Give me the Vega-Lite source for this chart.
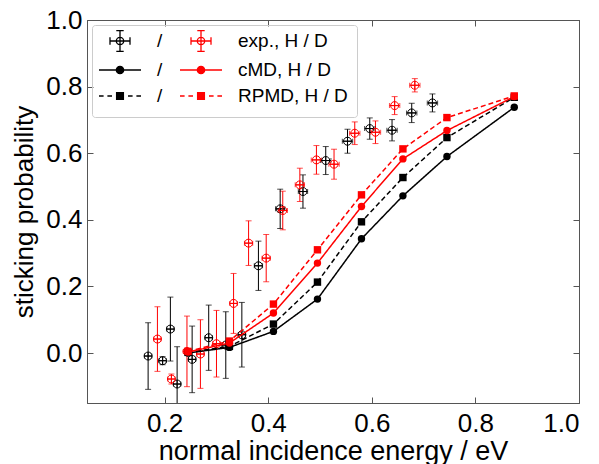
{
  "$schema": "https://vega.github.io/schema/vega-lite/v6.json",
  "width": 492,
  "height": 383,
  "autosize": {"type": "none"},
  "padding": {"left": 87, "top": 20, "right": 20, "bottom": 61},
  "datasets": {
    "exp": [
      {"iso": "H", "x": 0.168, "y": -0.009, "yerr": 0.1, "xerr": 0.007},
      {"iso": "H", "x": 0.196, "y": -0.023, "yerr": 0.012, "xerr": 0.007},
      {"iso": "H", "x": 0.211, "y": 0.072, "yerr": 0.096, "xerr": 0.007},
      {"iso": "H", "x": 0.224, "y": -0.093, "yerr": 0.112, "xerr": 0.007},
      {"iso": "H", "x": 0.253, "y": -0.019, "yerr": 0.1, "xerr": 0.007},
      {"iso": "H", "x": 0.285, "y": 0.046, "yerr": 0.098, "xerr": 0.007},
      {"iso": "H", "x": 0.318, "y": 0.024, "yerr": 0.1, "xerr": 0.007},
      {"iso": "H", "x": 0.349, "y": 0.055, "yerr": 0.097, "xerr": 0.007},
      {"iso": "H", "x": 0.381, "y": 0.262, "yerr": 0.074, "xerr": 0.008},
      {"iso": "H", "x": 0.423, "y": 0.433, "yerr": 0.059, "xerr": 0.009},
      {"iso": "H", "x": 0.467, "y": 0.485, "yerr": 0.05, "xerr": 0.009},
      {"iso": "H", "x": 0.511, "y": 0.578, "yerr": 0.042, "xerr": 0.01},
      {"iso": "H", "x": 0.553, "y": 0.636, "yerr": 0.036, "xerr": 0.01},
      {"iso": "H", "x": 0.596, "y": 0.674, "yerr": 0.032, "xerr": 0.01},
      {"iso": "H", "x": 0.639, "y": 0.669, "yerr": 0.032, "xerr": 0.01},
      {"iso": "H", "x": 0.677, "y": 0.721, "yerr": 0.029, "xerr": 0.01},
      {"iso": "H", "x": 0.717, "y": 0.751, "yerr": 0.027, "xerr": 0.01},
      {"iso": "D", "x": 0.186, "y": 0.042, "yerr": 0.097, "xerr": 0.007},
      {"iso": "D", "x": 0.213, "y": -0.078, "yerr": 0.015, "xerr": 0.007},
      {"iso": "D", "x": 0.243, "y": 0.005, "yerr": 0.106, "xerr": 0.007},
      {"iso": "D", "x": 0.269, "y": -0.003, "yerr": 0.103, "xerr": 0.007},
      {"iso": "D", "x": 0.3, "y": 0.028, "yerr": 0.1, "xerr": 0.007},
      {"iso": "D", "x": 0.333, "y": 0.149, "yerr": 0.09, "xerr": 0.007},
      {"iso": "D", "x": 0.362, "y": 0.33, "yerr": 0.067, "xerr": 0.008},
      {"iso": "D", "x": 0.396, "y": 0.285, "yerr": 0.071, "xerr": 0.008},
      {"iso": "D", "x": 0.428, "y": 0.428, "yerr": 0.058, "xerr": 0.009},
      {"iso": "D", "x": 0.461, "y": 0.505, "yerr": 0.05, "xerr": 0.009},
      {"iso": "D", "x": 0.493, "y": 0.58, "yerr": 0.043, "xerr": 0.01},
      {"iso": "D", "x": 0.527, "y": 0.567, "yerr": 0.045, "xerr": 0.01},
      {"iso": "D", "x": 0.567, "y": 0.66, "yerr": 0.034, "xerr": 0.01},
      {"iso": "D", "x": 0.607, "y": 0.663, "yerr": 0.034, "xerr": 0.01},
      {"iso": "D", "x": 0.644, "y": 0.743, "yerr": 0.027, "xerr": 0.01},
      {"iso": "D", "x": 0.683, "y": 0.804, "yerr": 0.02, "xerr": 0.01}
    ],
    "model": [
      {"method": "cMD", "iso": "H", "x": 0.245, "y": 0.0},
      {"method": "cMD", "iso": "H", "x": 0.325, "y": 0.017},
      {"method": "cMD", "iso": "H", "x": 0.41, "y": 0.065},
      {"method": "cMD", "iso": "H", "x": 0.495, "y": 0.162},
      {"method": "cMD", "iso": "H", "x": 0.58, "y": 0.343},
      {"method": "cMD", "iso": "H", "x": 0.66, "y": 0.472},
      {"method": "cMD", "iso": "H", "x": 0.745, "y": 0.59},
      {"method": "cMD", "iso": "H", "x": 0.875, "y": 0.738},
      {"method": "RPMD", "iso": "H", "x": 0.245, "y": 0.002},
      {"method": "RPMD", "iso": "H", "x": 0.325, "y": 0.02},
      {"method": "RPMD", "iso": "H", "x": 0.41, "y": 0.087},
      {"method": "RPMD", "iso": "H", "x": 0.495, "y": 0.213},
      {"method": "RPMD", "iso": "H", "x": 0.58, "y": 0.394},
      {"method": "RPMD", "iso": "H", "x": 0.66, "y": 0.527},
      {"method": "RPMD", "iso": "H", "x": 0.745, "y": 0.647},
      {"method": "RPMD", "iso": "H", "x": 0.875, "y": 0.768},
      {"method": "cMD", "iso": "D", "x": 0.245, "y": 0.003},
      {"method": "cMD", "iso": "D", "x": 0.325, "y": 0.03},
      {"method": "cMD", "iso": "D", "x": 0.41, "y": 0.12},
      {"method": "cMD", "iso": "D", "x": 0.495, "y": 0.27},
      {"method": "cMD", "iso": "D", "x": 0.58, "y": 0.44},
      {"method": "cMD", "iso": "D", "x": 0.66, "y": 0.583},
      {"method": "cMD", "iso": "D", "x": 0.745, "y": 0.668},
      {"method": "cMD", "iso": "D", "x": 0.875, "y": 0.77},
      {"method": "RPMD", "iso": "D", "x": 0.245, "y": 0.005},
      {"method": "RPMD", "iso": "D", "x": 0.325, "y": 0.036},
      {"method": "RPMD", "iso": "D", "x": 0.41, "y": 0.147},
      {"method": "RPMD", "iso": "D", "x": 0.495, "y": 0.31},
      {"method": "RPMD", "iso": "D", "x": 0.58, "y": 0.475},
      {"method": "RPMD", "iso": "D", "x": 0.66, "y": 0.613},
      {"method": "RPMD", "iso": "D", "x": 0.745, "y": 0.707},
      {"method": "RPMD", "iso": "D", "x": 0.875, "y": 0.772}
    ],
    "methods": [{"method": "exp"}, {"method": "cMD"}, {"method": "RPMD"}],
    "frame": [{"part": "box"}]
  },
  "config": {
    "font": "Liberation Sans",
    "view": {"stroke": "#555555"},
    "axis": {
      "grid": false,
      "tickSize": -6,
      "domainColor": "#555555",
      "tickColor": "#555555",
      "labelColor": "#000000",
      "titleColor": "#000000",
      "labelFontSize": 26,
      "titleFontSize": 26,
      "titleFontWeight": "normal",
      "labelFont": "Liberation Sans",
      "titleFont": "Liberation Sans"
    },
    "legend": {
      "labelFont": "Liberation Sans",
      "labelColor": "#000000",
      "labelFontSize": 19
    }
  },
  "layer": [
    {
      "data": {"name": "exp"},
      "mark": {"type": "errorbar", "ticks": {"size": 6, "thickness": 1}, "thickness": 1, "clip": true},
      "encoding": {
        "x": {"field": "x", "type": "quantitative", "scale": {"domain": [0.05, 1.0], "nice": false, "zero": false}, "axis": null},
        "y": {"field": "y", "type": "quantitative", "scale": {"domain": [-0.15, 1.0], "nice": false, "zero": false}, "axis": null},
        "yError": {"field": "yerr"},
        "color": {"field": "iso", "type": "nominal", "scale": {"domain": ["H", "D"], "range": ["#000000", "#ff0000"]}, "legend": null}
      }
    },
    {
      "data": {"name": "exp"},
      "mark": {"type": "errorbar", "ticks": {"size": 5, "thickness": 1}, "thickness": 1, "clip": true},
      "encoding": {
        "x": {"field": "x", "type": "quantitative", "scale": {"domain": [0.05, 1.0], "nice": false, "zero": false}, "axis": null},
        "xError": {"field": "xerr"},
        "y": {"field": "y", "type": "quantitative", "scale": {"domain": [-0.15, 1.0], "nice": false, "zero": false}, "axis": null},
        "color": {"field": "iso", "type": "nominal", "scale": {"domain": ["H", "D"], "range": ["#000000", "#ff0000"]}, "legend": null}
      }
    },
    {
      "data": {"name": "exp"},
      "mark": {"type": "point", "shape": "M-1,0A1,1,0,1,1,1,0A1,1,0,1,1,-1,0M-1,0L1,0M0,-1L0,1", "size": 64, "filled": false, "strokeWidth": 1, "opacity": 1, "clip": true},
      "encoding": {
        "x": {"field": "x", "type": "quantitative", "scale": {"domain": [0.05, 1.0], "nice": false, "zero": false}, "axis": null},
        "y": {"field": "y", "type": "quantitative", "scale": {"domain": [-0.15, 1.0], "nice": false, "zero": false}, "axis": null},
        "color": {"field": "iso", "type": "nominal", "scale": {"domain": ["H", "D"], "range": ["#000000", "#ff0000"]}, "legend": null}
      }
    },
    {
      "data": {"name": "model"},
      "mark": {"type": "line", "strokeWidth": 1.5, "clip": true},
      "encoding": {
        "x": {"field": "x", "type": "quantitative", "scale": {"domain": [0.05, 1.0], "nice": false, "zero": false},
          "axis": {"orient": "bottom", "values": [0.2, 0.4, 0.6, 0.8, 1.0], "format": ".1f", "title": "normal incidence energy / eV", "labelPadding": 13, "titlePadding": 2, "titleFontSize": 27}},
        "y": {"field": "y", "type": "quantitative", "scale": {"domain": [-0.15, 1.0], "nice": false, "zero": false},
          "axis": {"orient": "left", "values": [0, 0.2, 0.4, 0.6, 0.8, 1.0], "format": ".1f", "title": "sticking probability", "labelPadding": 11, "titlePadding": 8}},
        "color": {"field": "iso", "type": "nominal", "scale": {"domain": ["H", "D"], "range": ["#000000", "#ff0000"]}, "legend": null},
        "strokeDash": {"field": "method", "type": "nominal", "scale": {"domain": ["cMD", "RPMD"], "range": [[1, 0], [5, 3]]}, "legend": null}
      }
    },
    {
      "data": {"name": "model"},
      "mark": {"type": "point", "size": 55, "filled": true, "opacity": 1, "clip": true},
      "encoding": {
        "x": {"field": "x", "type": "quantitative", "scale": {"domain": [0.05, 1.0], "nice": false, "zero": false},
          "axis": {"orient": "top", "values": [0.2, 0.4, 0.6, 0.8, 1.0], "labels": false, "title": null}},
        "y": {"field": "y", "type": "quantitative", "scale": {"domain": [-0.15, 1.0], "nice": false, "zero": false},
          "axis": {"orient": "right", "values": [0, 0.2, 0.4, 0.6, 0.8, 1.0], "labels": false, "title": null}},
        "color": {"field": "iso", "type": "nominal", "scale": {"domain": ["H", "D"], "range": ["#000000", "#ff0000"]}, "legend": null},
        "shape": {"field": "method", "type": "nominal", "scale": {"domain": ["cMD", "RPMD"], "range": ["circle", "square"]}, "legend": null}
      }
    },
    {
      "data": {"name": "frame"},
      "mark": {"type": "point", "filled": false, "color": "#cccccc", "opacity": 0},
      "encoding": {
        "shape": {"field": "part", "type": "nominal",
          "scale": {"domain": ["box"], "range": [
            "M-0.7,-1L25.2,-1A0.3,0.3,0,0,1,25.5,-0.7L25.5,7.9A0.3,0.3,0,0,1,25.2,8.2L-0.7,8.2A0.3,0.3,0,0,1,-1,7.9L-1,-0.7A0.3,0.3,0,0,1,-0.7,-1Z"
          ]},
          "legend": {"orient": "none", "legendX": 5, "legendY": 5, "title": null, "symbolSize": 400,
            "symbolStrokeColor": "#cccccc", "symbolOpacity": 1, "symbolStrokeWidth": 1,
            "labelExpr": "''", "padding": 0}
        }
      }
    },
    {
      "data": {"name": "methods"},
      "mark": {"type": "point", "filled": false, "color": "#000000", "opacity": 0},
      "encoding": {
        "shape": {"field": "method", "type": "nominal",
          "scale": {"domain": ["exp", "cMD", "RPMD"], "range": [
            "M-0.37,0A0.37,0.37,0,1,1,0.37,0A0.37,0.37,0,1,1,-0.37,0M-1,0L1,0M-1,-0.37L-1,0.37M1,-0.37L1,0.37M0,-1.03L0,1.03M-0.37,-1.03L0.37,-1.03M-0.37,1.03L0.37,1.03",
            "M-2.1,0L2.1,0M-0.37,0A0.37,0.37,0,1,1,0.37,0A0.37,0.37,0,1,1,-0.37,0M-0.25,0A0.25,0.25,0,1,1,0.25,0A0.25,0.25,0,1,1,-0.25,0M-0.13,0A0.13,0.13,0,1,1,0.13,0A0.13,0.13,0,1,1,-0.13,0",
            "M-2.1,0L-1.64,0M-1.26,0L-0.8,0M0.8,0L1.26,0M1.64,0L2.1,0M-0.34,-0.34L0.34,-0.34L0.34,0.34L-0.34,0.34ZM-0.34,-0.22L0.34,-0.22M-0.34,-0.11L0.34,-0.11M-0.34,0L0.34,0M-0.34,0.11L0.34,0.11M-0.34,0.22L0.34,0.22"
          ]},
          "legend": {"orient": "none", "legendX": 22, "legendY": 10, "title": null, "symbolSize": 400,
            "symbolStrokeColor": "#000000", "symbolOpacity": 1, "symbolStrokeWidth": 1.3,
            "labelExpr": "'/'", "labelLimit": 400, "labelOffset": 26,
            "padding": 0, "rowPadding": 5}
        }
      }
    },
    {
      "data": {"name": "methods"},
      "mark": {"type": "point", "filled": false, "color": "#ff0000", "opacity": 0},
      "encoding": {
        "shape": {"field": "method", "type": "nominal",
          "scale": {"domain": ["exp", "cMD", "RPMD"], "range": [
            "M-0.37,0A0.37,0.37,0,1,1,0.37,0A0.37,0.37,0,1,1,-0.37,0M-1,0L1,0M-1,-0.37L-1,0.37M1,-0.37L1,0.37M0,-1.03L0,1.03M-0.37,-1.03L0.37,-1.03M-0.37,1.03L0.37,1.03",
            "M-2.1,0L2.1,0M-0.37,0A0.37,0.37,0,1,1,0.37,0A0.37,0.37,0,1,1,-0.37,0M-0.25,0A0.25,0.25,0,1,1,0.25,0A0.25,0.25,0,1,1,-0.25,0M-0.13,0A0.13,0.13,0,1,1,0.13,0A0.13,0.13,0,1,1,-0.13,0",
            "M-2.1,0L-1.64,0M-1.26,0L-0.8,0M0.8,0L1.26,0M1.64,0L2.1,0M-0.34,-0.34L0.34,-0.34L0.34,0.34L-0.34,0.34ZM-0.34,-0.22L0.34,-0.22M-0.34,-0.11L0.34,-0.11M-0.34,0L0.34,0M-0.34,0.11L0.34,0.11M-0.34,0.22L0.34,0.22"
          ]},
          "legend": {"orient": "none", "legendX": 103, "legendY": 10, "title": null,
            "symbolSize": 400, "symbolStrokeColor": "#ff0000", "symbolOpacity": 1, "symbolStrokeWidth": 1.3,
            "labelExpr": "datum.label === 'exp' ? 'exp., H / D' : datum.label + ', H / D'", "labelLimit": 400, "labelOffset": 26,
            "padding": 0, "rowPadding": 5}
        }
      }
    }
  ],
  "resolve": {"scale": {"shape": "independent"}}
}
